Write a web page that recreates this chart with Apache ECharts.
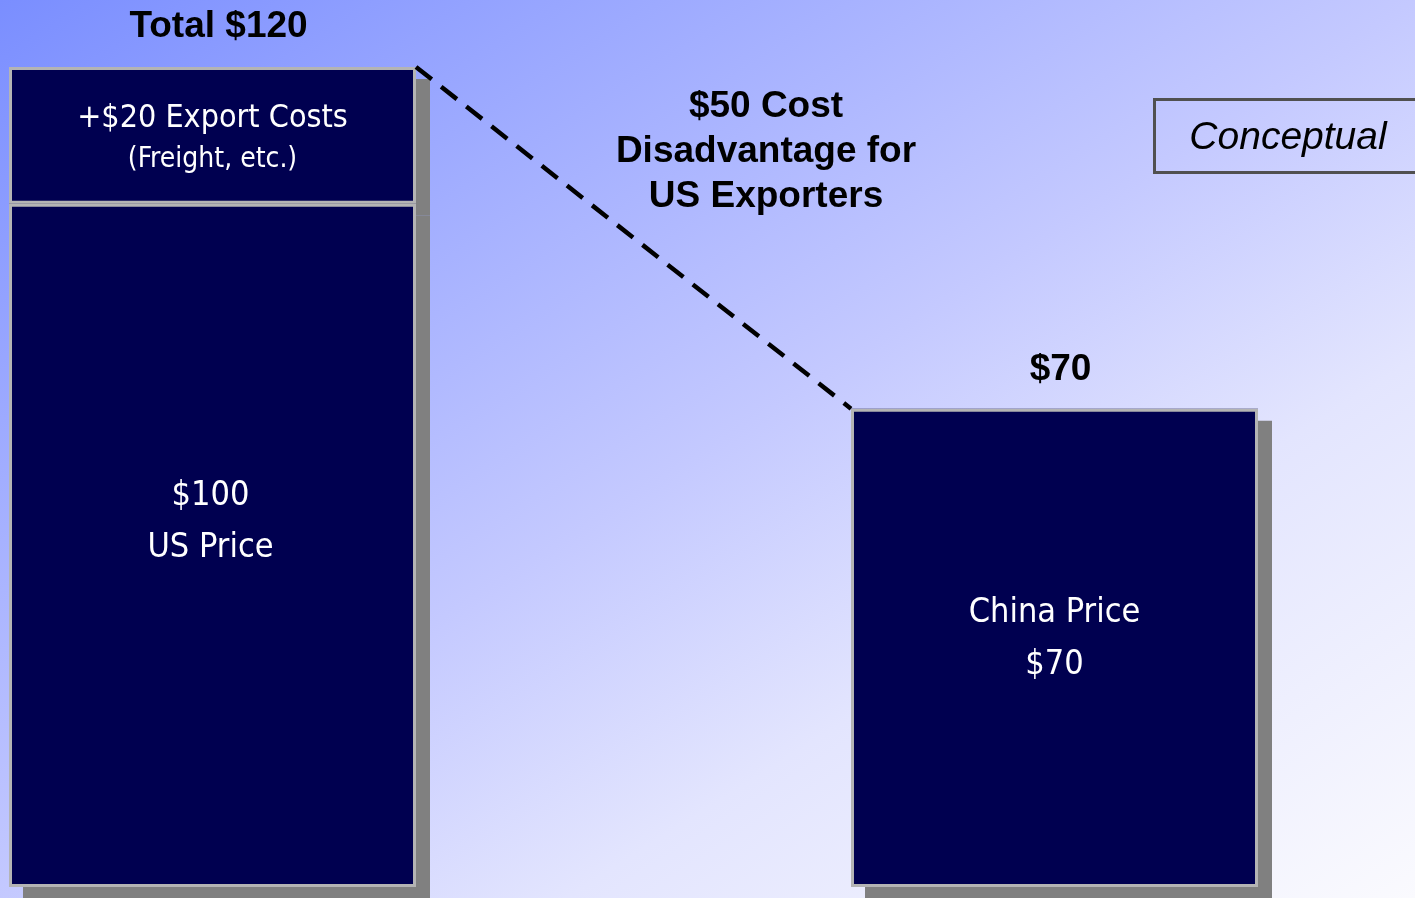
<!DOCTYPE html>
<html>
<head>
<meta charset="utf-8">
<script src="https://cdn.jsdelivr.net/npm/echarts@6/dist/echarts.min.js"></script>
<style>
html,body{margin:0;padding:0;width:1415px;height:898px;overflow:hidden;}
#c{width:1415px;height:898px;}
</style>
</head>
<body>
<div id="c"></div>
<script>
// ---- data ----
const markets = ['US', 'China'];
const basePrice = [100, 70];
const exportCosts = [20, null];
const totalPrice = [120, 70];
const baseLabels = ['$100\nUS Price', 'China Price\n$70'];
const totalLabels = ['Total $120', '$70'];
const exportLabel = ['+$20 Export Costs', '(Freight, etc.)'];
const gapNote = ['$50 Cost', 'Disadvantage for', 'US Exporters'];
const stampText = 'Conceptual';

// ---- styling / layout ----
const NARROW = '"Liberation Sans Narrow","Arial Narrow","DejaVu Sans Condensed",sans-serif';
const SANS = '"Liberation Sans",Arial,Helvetica,sans-serif';
const W = 1415, H = 898;
const gridLeft = 212.5, gridRight = 360.5;   // category ticks sit on the grid edges
const barPx = 407;
const spanPx = W - gridLeft - gridRight;       // distance between the two bar centres
const halfBar = barPx / 2 / spanPx;

const k = 2 * W * H / (W * W + H * H);
const bg = new echarts.graphic.LinearGradient(0, 0, k * H, k * W, [
  {offset: 0, color: '#7a8eff'},
  {offset: 0.2, color: '#98a6ff'},
  {offset: 0.5, color: '#c4c9ff'},
  {offset: 0.7, color: '#e3e5fe'},
  {offset: 1, color: '#fafafe'}
], true);

const shadowStyle = {
  color: '#000050', borderWidth: 0,
  shadowColor: '#808080', shadowOffsetX: 14, shadowOffsetY: 12, shadowBlur: 0
};
const barStyle = {color: '#000050', borderColor: '#b4b4b4', borderWidth: 3};

const baseLabelOffsets = [[-2, -23], [0, -9]];
const baseData = markets.map((m, i) => ({
  value: basePrice[i],
  label: {
    show: true, position: 'inside', formatter: baseLabels[i],
    color: '#ffffff', fontFamily: NARROW, fontSize: 34, lineHeight: 52,
    textBorderWidth: 0, offset: baseLabelOffsets[i]
  }
}));

const exportData = markets.map((m, i) => ({
  value: exportCosts[i] == null ? '-' : exportCosts[i],
  label: {
    show: exportCosts[i] != null, position: 'inside', textBorderWidth: 0,
    offset: [0, 3],
    formatter: '{a|' + exportLabel[0] + '}\n{b|' + exportLabel[1] + '}',
    rich: {
      a: {color: '#ffffff', fontFamily: NARROW, fontSize: 32, lineHeight: 42},
      b: {color: '#ffffff', fontFamily: NARROW, fontSize: 28, lineHeight: 40}
    }
  }
}));

const totalDist = [21, 20];
const totalData = markets.map((m, i) => ({
  value: totalPrice[i],
  label: {
    show: true, position: 'top', distance: totalDist[i], formatter: totalLabels[i],
    color: '#000000', fontFamily: SANS, fontWeight: 'bold', fontSize: 37,
    textBorderWidth: 0, opacity: 1, offset: [6, 0]
  }
}));

const chart = echarts.init(document.getElementById('c'), null, {renderer: 'canvas', width: W, height: H});
chart.setOption({
  backgroundColor: bg,
  animation: false,
  grid: {left: gridLeft, right: gridRight, top: 67, bottom: 11, containLabel: false},
  xAxis: [
    {type: 'category', data: markets, boundaryGap: false, show: false},
    {type: 'value', min: 0, max: markets.length - 1, show: false}
  ],
  yAxis: {type: 'value', min: 0, max: 120, show: false},
  tooltip: {show: false},
  series: [
    {name: 'Shadow base', type: 'bar', stack: 'shadow', z: 1, silent: true, clip: false,
     barWidth: barPx, barGap: '-100%', itemStyle: shadowStyle, data: basePrice},
    {name: 'Shadow export', type: 'bar', stack: 'shadow', z: 1, silent: true, clip: false,
     barWidth: barPx, barGap: '-100%', itemStyle: shadowStyle,
     data: exportCosts.map(v => v == null ? '-' : v)},
    {name: 'Base price', type: 'bar', stack: 'price', z: 2, clip: false,
     barWidth: barPx, barGap: '-100%', itemStyle: barStyle, data: baseData},
    {name: 'Export costs', type: 'bar', stack: 'price', z: 2, clip: false,
     barWidth: barPx, barGap: '-100%', itemStyle: barStyle, data: exportData},
    {name: 'Totals', type: 'scatter', symbol: 'circle', symbolSize: 1, z: 4, clip: false,
     itemStyle: {color: 'rgba(0,0,0,0)'}, data: totalData},
    {name: 'Gap', type: 'line', xAxisIndex: 1, symbol: 'none', z: 6, silent: true, clip: false,
     lineStyle: {color: '#000000', width: 4.5, type: [20, 12]},
     data: [[0 + halfBar, totalPrice[0]], [1 - halfBar, totalPrice[1]]]}
  ],
  graphic: [
    {
      type: 'text', x: 766, y: 152, z: 10,
      style: {
        text: gapNote.join('\n'), fill: '#000000',
        font: 'bold 37px ' + SANS, align: 'center', verticalAlign: 'middle', lineHeight: 45
      }
    },
    {
      type: 'rect', z: 10,
      shape: {x: 1154.5, y: 99.5, width: 280, height: 73},
      style: {fill: 'rgba(0,0,0,0)', stroke: '#505050', lineWidth: 3}
    },
    {
      type: 'text', x: 1288, y: 138, z: 10,
      style: {
        text: stampText, fill: '#000000',
        font: 'italic 39px ' + SANS, align: 'center', verticalAlign: 'middle',
        textShadowColor: 'rgba(0,0,0,0.35)', textShadowOffsetX: 1, textShadowOffsetY: 1
      }
    }
  ]
});
</script>
</body>
</html>
